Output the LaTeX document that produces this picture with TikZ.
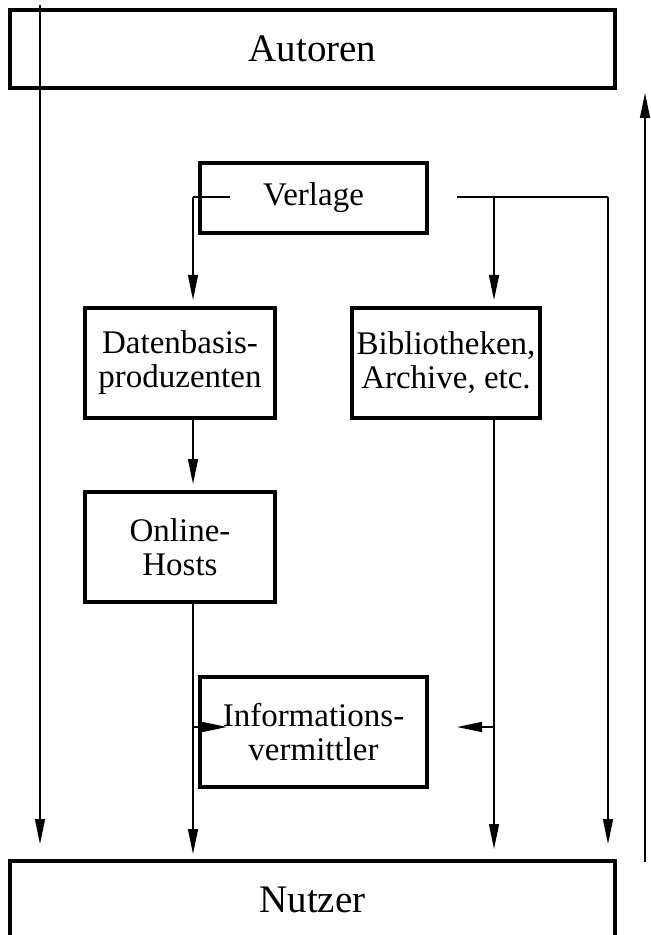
\documentclass[tikz,border=0pt]{standalone}
\usepackage{fontspec}
\setmainfont{Liberation Serif}
\usetikzlibrary{arrows.meta}

\begin{document}
\begin{tikzpicture}[x=0.5pt,y=-0.5pt,
    line/.style={line width=0.75pt},
    flow/.style={line, -{Triangle[length=12.5pt,width=5pt]}},
    box/.style={draw, line width=2pt, inner sep=0pt, align=center,
        minimum width=95pt, minimum height=55pt,
        font=\fontsize{16.5}{17}\selectfont},
    bigbox/.style={box, minimum width=302.5pt, minimum height=39pt,
        font=\fontsize{19.5}{21}\selectfont}]
    \useasboundingbox (0,0) rectangle (650,935);
    \node[bigbox] (autoren) at (312.5,49) {Autoren};
    \node[bigbox] (nutzer) at (312.5,900) {Nutzer};
    \node[box, minimum width=113.5pt, minimum height=35pt] (verlage) at (313.5,198) {Verlage};
    \node[box] (datenbasis) at (180,363) {Datenbasis-\\produzenten};
    \node[box, minimum width=94pt] (bibliothek) at (446,363) {Bibliotheken,\\Archive, etc.};
    \node[box] (hosts) at (180,547) {Online-\\Hosts};
    \node[box, minimum width=113.5pt] (vermittler) at (313.5,732) {Informations-\\vermittler};
    \coordinate (oben) at (40,5);
    \coordinate (vl) at (230,197);
    \coordinate (vr) at (457,197);
    \coordinate (kl) at (193,197);
    \coordinate (km) at (494,197);
    \coordinate (kr) at (608,197);
    \coordinate (ml) at (193,727);
    \coordinate (mr) at (494,727);
    \coordinate (il) at (227,727);
    \coordinate (ir) at (457,727);
    \coordinate (rueck) at (645,862);
    \draw[flow, shorten >=7.5pt] (oben) -- (oben |- nutzer.north);
    \draw[line] (vl) -- (kl);
    \draw[flow, shorten >=3pt] (kl) -- (kl |- datenbasis.north);
    \draw[line] (vr) -- (kr);
    \draw[flow, shorten >=3pt] (km) -- (km |- bibliothek.north);
    \draw[flow, shorten >=7.5pt] (kr) -- (kr |- nutzer.north);
    \draw[flow, shorten >=3pt] (kl |- datenbasis.south) -- (kl |- hosts.north);
    \draw[flow, shorten >=2.5pt] (kl |- hosts.south) -- (kl |- nutzer.north);
    \draw[flow, shorten >=5pt] (km |- bibliothek.south) -- (km |- nutzer.north);
    \draw[flow] (ml) -- (il);
    \draw[flow] (mr) -- (ir);
    \draw[flow, shorten >=1.5pt] (rueck) -- (rueck |- autoren.south);
\end{tikzpicture}
\end{document}
